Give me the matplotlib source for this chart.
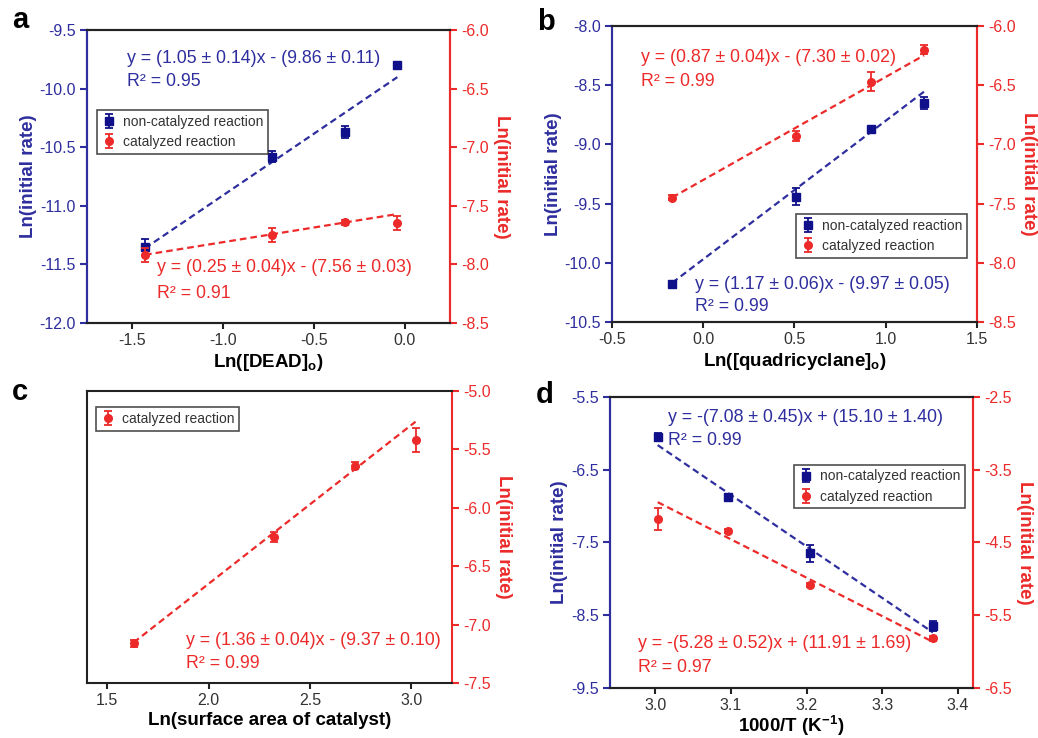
import numpy as np
import matplotlib as mpl
mpl.use("Agg")
from matplotlib import pyplot as plt

plt.rcParams['font.family'] = ['Liberation Sans', 'DejaVu Sans']
plt.rcParams['mathtext.fontset'] = 'custom'
plt.rcParams['mathtext.rm'] = 'Liberation Sans'
plt.rcParams['mathtext.bf'] = 'Liberation Sans:bold'
plt.rcParams['mathtext.it'] = 'Liberation Sans:italic'

BLUE = '#2e2e9e'
DBLUE = '#10108a'
RED = '#ec2a2a'
DARK = '#333333'

# ---- panel a : DEAD ----
a_x = [-1.43, -0.73, -0.33, -0.04]
a_blue = [-11.35, -10.58, -10.37, -9.80]
a_blue_err = [0.07, 0.05, 0.05, 0.03]
a_red = [-7.92, -7.75, -7.64, -7.65]
a_red_err = [0.06, 0.06, 0.02, 0.06]
a_blue_fit = (1.05, -9.86)
a_red_fit = (0.25, -7.56)

# ---- panel b : quadricyclane ----
b_x = [-0.17, 0.51, 0.92, 1.21]
b_blue = [-10.18, -9.44, -8.87, -8.65]
b_blue_err = [0.03, 0.07, 0.02, 0.05]
b_red = [-7.45, -6.93, -6.47, -6.20]
b_red_err = [0.02, 0.04, 0.08, 0.04]
b_blue_fit = (1.17, -9.97)
b_red_fit = (0.87, -7.30)

# ---- panel c : surface area ----
c_x = [1.63, 2.32, 2.72, 3.02]
c_red = [-7.16, -6.25, -5.64, -5.42]
c_red_err = [0.03, 0.04, 0.03, 0.10]
c_red_fit = (1.36, -9.37)

# ---- panel d : 1000/T ----
d_x = [3.003, 3.096, 3.205, 3.367]
d_blue = [-6.05, -6.87, -7.65, -8.65]
d_blue_err = [0.06, 0.03, 0.12, 0.07]
d_red = [-4.18, -4.34, -5.09, -5.82]
d_red_err = [0.15, 0.03, 0.03, 0.03]
d_blue_fit = (-7.08, 15.10)
d_red_fit = (-5.28, 11.91)

eqs = {
    'a_blue': ['y = (1.05 ± 0.14)x - (9.86 ± 0.11)', 'R² = 0.95'],
    'a_red': ['y = (0.25 ± 0.04)x - (7.56 ± 0.03)', 'R² = 0.91'],
    'b_red': ['y = (0.87 ± 0.04)x - (7.30 ± 0.02)', 'R² = 0.99'],
    'b_blue': ['y = (1.17 ± 0.06)x - (9.97 ± 0.05)', 'R² = 0.99'],
    'c_red': ['y = (1.36 ± 0.04)x - (9.37 ± 0.10)', 'R² = 0.99'],
    'd_blue': ['y = -(7.08 ± 0.45)x + (15.10 ± 1.40)', 'R² = 0.99'],
    'd_red': ['y = -(5.28 ± 0.52)x + (11.91 ± 1.69)', 'R² = 0.97'],
}

ylabel = 'Ln(initial rate)'
TICK_FS = 11.5
LAB_FS = 13.5
EQ_FS = 12.8


def style_axes(ax, left_color, right_color):
    for s in ['top', 'bottom']:
        ax.spines[s].set_color('#222222')
        ax.spines[s].set_linewidth(1.5)
    ax.spines['left'].set_color(left_color)
    ax.spines['right'].set_color(right_color)
    ax.spines['left'].set_linewidth(1.5)
    ax.spines['right'].set_linewidth(1.5)
    ax.tick_params(axis='x', direction='out', length=4, width=1.5,
                   colors='#222222', labelcolor=DARK, labelsize=TICK_FS, pad=3)


def series(ax, x, y, err, fit, color, lcolor, marker, label):
    h = ax.errorbar(x, y, yerr=err, fmt=marker, color=color, ms=5.5,
                    capsize=3, elinewidth=1.3, capthick=1.3, label=label, zorder=4)
    xs = np.array([x[0], x[-1]])
    ax.plot(xs, fit[0] * xs + fit[1], ls=(0, (3, 1.8)), lw=1.6, color=lcolor, zorder=3)
    return h


def eq_text(ax, key, x, y1, y2, color):
    ax.text(x, y1, eqs[key][0], transform=ax.transAxes, color=color,
            fontsize=EQ_FS, va='center', ha='left', zorder=6)
    ax.text(x, y2, eqs[key][1], transform=ax.transAxes, color=color,
            fontsize=EQ_FS, va='center', ha='left', zorder=6)


def legend(ax, handles, labels, x0, y0):
    leg = ax.legend(handles, labels, loc='upper left', bbox_to_anchor=(x0, y0),
                    fontsize=10, frameon=True, fancybox=False, handlelength=1.0,
                    handletextpad=0.5, borderpad=0.35, labelspacing=0.45,
                    borderaxespad=0)
    leg.get_frame().set_edgecolor('#222222')
    leg.get_frame().set_linewidth(1.2)
    for t in leg.get_texts():
        t.set_color(DARK)
    leg.set_zorder(10)


def twin_setup(ax, ax2, ylim1, yt1, ylim2, yt2):
    ax.set_ylim(*ylim1)
    ax.set_yticks(yt1)
    ax.set_yticklabels(['%.1f' % v for v in yt1])
    ax2.set_ylim(*ylim2)
    ax2.set_yticks(yt2)
    ax2.set_yticklabels(['%.1f' % v for v in yt2])
    ax.tick_params(axis='y', direction='out', length=5, width=1.5, colors=BLUE,
                   labelsize=TICK_FS, pad=3)
    ax2.tick_params(axis='y', direction='out', length=5, width=1.5, colors=RED,
                    labelsize=TICK_FS, pad=3)
    ax.set_ylabel(ylabel, color=BLUE, fontsize=LAB_FS, fontweight='bold', labelpad=2)
    ax2.set_ylabel(ylabel, color=RED, fontsize=LAB_FS, fontweight='bold',
                   rotation=270, va='bottom', labelpad=3)


fig = plt.figure(figsize=(10.38, 7.38), dpi=100)

# panel a
ax = fig.add_axes([0.0838, 0.5623, 0.3497, 0.397])
ax2 = ax.twinx()
style_axes(ax, BLUE, RED)
style_axes(ax2, BLUE, RED)
hb = series(ax, a_x, a_blue, a_blue_err, a_blue_fit, DBLUE, BLUE, 's', 'non-catalyzed reaction')
hr = series(ax2, a_x, a_red, a_red_err, a_red_fit, RED, RED, 'o', 'catalyzed reaction')
ax.set_xlim(-1.75, 0.25)
ax.set_xticks([-1.5, -1.0, -0.5, 0.0])
ax.set_xticklabels(['-1.5', '-1.0', '-0.5', '0.0'])
twin_setup(ax, ax2, (-12.0, -9.5), [-12.0, -11.5, -11.0, -10.5, -10.0, -9.5],
           (-8.5, -6.0), [-8.5, -8.0, -7.5, -7.0, -6.5, -6.0])
ax.set_xlabel(r'Ln([DEAD]$_\mathbf{o}$)', fontsize=LAB_FS, fontweight='bold', labelpad=3)
eq_text(ax2, 'a_blue', 0.11, 0.904, 0.823, BLUE)
eq_text(ax2, 'a_red', 0.193, 0.188, 0.102, RED)
legend(ax2, [hb, hr], ['non-catalyzed reaction', 'catalyzed reaction'], 0.028, 0.727)

# panel b
ax = fig.add_axes([0.5896, 0.5637, 0.3516, 0.401])
ax2 = ax.twinx()
style_axes(ax, BLUE, RED)
style_axes(ax2, BLUE, RED)
hb = series(ax, b_x, b_blue, b_blue_err, b_blue_fit, DBLUE, BLUE, 's', 'non-catalyzed reaction')
hr = series(ax2, b_x, b_red, b_red_err, b_red_fit, RED, RED, 'o', 'catalyzed reaction')
ax.set_xlim(-0.5, 1.5)
ax.set_xticks([-0.5, 0.0, 0.5, 1.0, 1.5])
ax.set_xticklabels(['-0.5', '0.0', '0.5', '1.0', '1.5'])
twin_setup(ax, ax2, (-10.5, -8.0), [-10.5, -10.0, -9.5, -9.0, -8.5, -8.0],
           (-8.5, -6.0), [-8.5, -8.0, -7.5, -7.0, -6.5, -6.0])
ax.set_xlabel(r'Ln([quadricyclane]$_\mathbf{o}$)', fontsize=LAB_FS, fontweight='bold', labelpad=3)
eq_text(ax2, 'b_red', 0.079, 0.895, 0.814, RED)
eq_text(ax2, 'b_blue', 0.227, 0.128, 0.052, BLUE)
legend(ax2, [hb, hr], ['non-catalyzed reaction', 'catalyzed reaction'], 0.504, 0.365)

# panel c
ax = fig.add_axes([0.0838, 0.0745, 0.3517, 0.3957])
style_axes(ax, '#222222', RED)
hr = series(ax, c_x, c_red, c_red_err, c_red_fit, RED, RED, 'o', 'catalyzed reaction')
ax.set_xlim(1.4, 3.2)
ax.set_xticks([1.5, 2.0, 2.5, 3.0])
ax.set_xticklabels(['1.5', '2.0', '2.5', '3.0'])
ax.set_ylim(-7.5, -5.0)
c_yt = [-7.5, -7.0, -6.5, -6.0, -5.5, -5.0]
ax.set_yticks(c_yt)
ax.set_yticklabels(['%.1f' % v for v in c_yt])
ax.yaxis.tick_right()
ax.yaxis.set_label_position('right')
ax.tick_params(axis='y', direction='out', length=5, width=1.5, colors=RED,
               labelsize=TICK_FS, pad=3)
ax.set_ylabel(ylabel, color=RED, fontsize=LAB_FS, fontweight='bold',
              rotation=270, va='bottom', labelpad=3)
ax.set_xlabel('Ln(surface area of catalyst)', fontsize=LAB_FS, fontweight='bold', labelpad=3)
eq_text(ax, 'c_red', 0.271, 0.147, 0.066, RED)
legend(ax, [hr], ['catalyzed reaction'], 0.025, 0.945)

# panel d
ax = fig.add_axes([0.5877, 0.068, 0.3497, 0.394])
ax2 = ax.twinx()
style_axes(ax, BLUE, RED)
style_axes(ax2, BLUE, RED)
hb = series(ax, d_x, d_blue, d_blue_err, d_blue_fit, DBLUE, BLUE, 's', 'non-catalyzed reaction')
hr = series(ax2, d_x, d_red, d_red_err, d_red_fit, RED, RED, 'o', 'catalyzed reaction')
ax.set_xlim(2.94, 3.42)
ax.set_xticks([3.0, 3.1, 3.2, 3.3, 3.4])
ax.set_xticklabels(['3.0', '3.1', '3.2', '3.3', '3.4'])
twin_setup(ax, ax2, (-9.5, -5.5), [-9.5, -8.5, -7.5, -6.5, -5.5],
           (-6.5, -2.5), [-6.5, -5.5, -4.5, -3.5, -2.5])
ax.set_xlabel(r'1000/T (K$^{\mathbf{-1}}$)', fontsize=LAB_FS, fontweight='bold', labelpad=1)
eq_text(ax2, 'd_blue', 0.16, 0.928, 0.85, BLUE)
eq_text(ax2, 'd_red', 0.077, 0.151, 0.069, RED)
legend(ax2, [hb, hr], ['non-catalyzed reaction', 'catalyzed reaction'], 0.507, 0.768)

# panel letters
for lab, px, py in [('a', 12, 20), ('b', 537, 22), ('c', 12, 392), ('d', 536, 395)]:
    fig.text(px / 1038., 1 - py / 738., lab, fontsize=21, fontweight='bold',
             ha='left', va='center', color='black')

fig.savefig('out.png', dpi=100)
